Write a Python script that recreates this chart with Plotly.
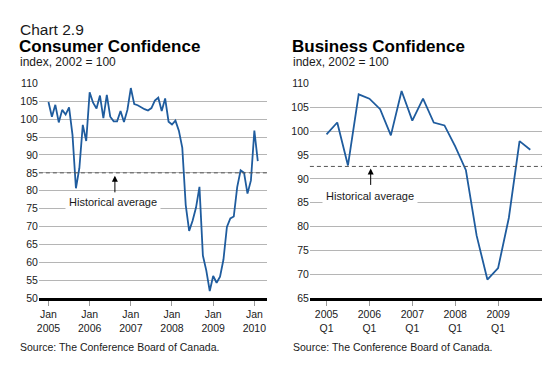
import plotly.graph_objects as go

# ---------------- data ----------------
consumer_months = list(range(62))  # 0 = Jan 2005 ... 61 = Feb 2010
consumer_index = [
    104.8, 100.7, 104.0, 99.1, 102.6, 101.3, 103.3, 95.6, 80.7, 86.3, 98.4, 93.9,
    107.5, 104.6, 103.0, 106.6, 100.3, 106.8, 100.7, 99.4, 99.4, 102.3, 99.2, 102.6,
    108.7, 104.2, 103.9, 103.3, 102.8, 102.4, 103.1, 105.2, 106.0, 102.3, 105.8, 99.3,
    98.5, 99.6, 96.8, 92.0, 76.0, 68.8, 71.6, 75.3, 81.1, 61.9, 57.7, 52.0,
    56.2, 54.3, 56.0, 60.8, 69.9, 72.3, 72.8, 81.0, 85.7, 85.0, 79.2, 82.9,
    96.8, 88.3,
]
consumer_tickvals = [0, 12, 24, 36, 48, 60]
consumer_ticktext = ["Jan<br>2005", "Jan<br>2006", "Jan<br>2007", "Jan<br>2008", "Jan<br>2009", "Jan<br>2010"]
consumer_hist_avg = 85.0

business_quarters = list(range(20))  # 0 = 2005Q1 ... 19 = 2009Q4
business_index = [
    99.3, 101.8, 92.8, 107.7,
    106.8, 104.6, 99.1, 108.4,
    102.2, 106.8, 101.8, 101.2,
    96.8, 91.8, 78.1, 68.9,
    71.3, 81.8, 97.9, 96.1,
]
business_tickvals = [0, 4, 8, 12, 16]
business_ticktext = ["2005<br>Q1", "2006<br>Q1", "2007<br>Q1", "2008<br>Q1", "2009<br>Q1"]
business_hist_avg = 92.6

# ---------------- styling ----------------
W, H = 560, 368
FONT = "Liberation Sans, Arial, Helvetica, sans-serif"
LINE_COLOR = "#1f5c9e"
GRID = "#b5b5b5"
TXT = "#1a1a1a"

def px_x(p):
    return p / W

def px_y(p):
    return 1 - p / H

ydom = [px_y(302), px_y(80)]

fig = go.Figure()
fig.add_trace(go.Scatter(x=consumer_months, y=consumer_index, mode="lines",
                         line=dict(color=LINE_COLOR, width=1.8),
                         xaxis="x", yaxis="y", showlegend=False, hoverinfo="skip"))
fig.add_trace(go.Scatter(x=business_quarters, y=business_index, mode="lines",
                         line=dict(color=LINE_COLOR, width=1.8),
                         xaxis="x2", yaxis="y2", showlegend=False, hoverinfo="skip"))

xcommon = dict(showgrid=False, zeroline=False, showline=True, linecolor="black", linewidth=2.5,
               ticks="outside", ticklen=5, tickwidth=1, tickcolor="#999999",
               tickfont=dict(family=FONT, size=10.5, color=TXT), fixedrange=True)
ycommon = dict(showgrid=True, gridcolor=GRID, gridwidth=1, zeroline=False, showline=False,
               ticks="", dtick=5, tickfont=dict(family=FONT, size=10.5, color=TXT),
               domain=ydom, fixedrange=True)

fig.update_layout(
    width=W, height=H,
    margin=dict(l=0, r=0, t=0, b=0),
    paper_bgcolor="white", plot_bgcolor="white",
    font=dict(family=FONT, color=TXT),
    xaxis=dict(domain=[px_x(37), px_x(266)], range=[-2.8, 63.7], anchor="y",
               tickmode="array", tickvals=consumer_tickvals, ticktext=consumer_ticktext, **xcommon),
    yaxis=dict(range=[50, 110], anchor="x", **ycommon),
    xaxis2=dict(domain=[px_x(309), px_x(542)], range=[-1.55, 20.1], anchor="y2",
                tickmode="array", tickvals=business_tickvals, ticktext=business_ticktext, **xcommon),
    yaxis2=dict(range=[65, 110], anchor="x2", **ycommon),
)

# historical average dashed lines
for xr, yr, val in [("x domain", "y", consumer_hist_avg), ("x2 domain", "y2", business_hist_avg)]:
    fig.add_shape(type="line", xref=xr, yref=yr, x0=0, x1=1, y0=val, y1=val,
                  line=dict(color="#555555", width=1, dash="4px,3px"))

ann = []
# Historical average labels (white box breaks the gridline)
ann.append(dict(text="Historical average", xref="paper", yref="paper", x=px_x(111.7), y=px_y(203),
                xanchor="center", yanchor="middle", showarrow=False, bgcolor="white", borderpad=3,
                font=dict(family=FONT, size=11, color=TXT)))
ann.append(dict(text="Historical average", xref="paper", yref="paper", x=px_x(369), y=px_y(196),
                xanchor="center", yanchor="middle", showarrow=False, bgcolor="white", borderpad=3,
                font=dict(family=FONT, size=11, color=TXT)))
# arrows
ann.append(dict(text="", xref="paper", yref="y", x=px_x(113.3), y=consumer_hist_avg,
                showarrow=True, ax=0, ay=21, arrowhead=2, arrowsize=1.2, arrowwidth=1,
                arrowcolor="black", standoff=3))
ann.append(dict(text="", xref="paper", yref="y2", x=px_x(370), y=business_hist_avg,
                showarrow=True, ax=0, ay=20, arrowhead=2, arrowsize=1.2, arrowwidth=1,
                arrowcolor="black", standoff=2))

# titles
ann.append(dict(text="Chart 2.9", xref="paper", yref="paper", x=px_x(16), y=px_y(24),
                xanchor="left", yanchor="middle", showarrow=False,
                font=dict(family=FONT, size=15.5, color=TXT)))
ann.append(dict(text="<b>Consumer Confidence</b>", xref="paper", yref="paper", x=px_x(15), y=px_y(42),
                xanchor="left", yanchor="middle", showarrow=False,
                font=dict(family=FONT, size=17, color="black")))
ann.append(dict(text="<b>Business Confidence</b>", xref="paper", yref="paper", x=px_x(289), y=px_y(42),
                xanchor="left", yanchor="middle", showarrow=False,
                font=dict(family=FONT, size=17, color="black")))
for xp in (16, 290):
    ann.append(dict(text="index, 2002 = 100", xref="paper", yref="paper", x=px_x(xp), y=px_y(58),
                    xanchor="left", yanchor="middle", showarrow=False,
                    font=dict(family=FONT, size=12, color=TXT)))
    ann.append(dict(text="Source: The Conference Board of Canada.", xref="paper", yref="paper",
                    x=px_x(xp), y=px_y(352), xanchor="left", yanchor="middle", showarrow=False,
                    font=dict(family=FONT, size=10.5, color=TXT)))

fig.update_layout(annotations=ann)
fig.write_html(
    "out.html",
    config={"displayModeBar": False, "staticPlot": True},
    post_script="document.body.style.margin='0';document.body.style.padding='0';"
                "document.documentElement.style.overflow='hidden';",
)
